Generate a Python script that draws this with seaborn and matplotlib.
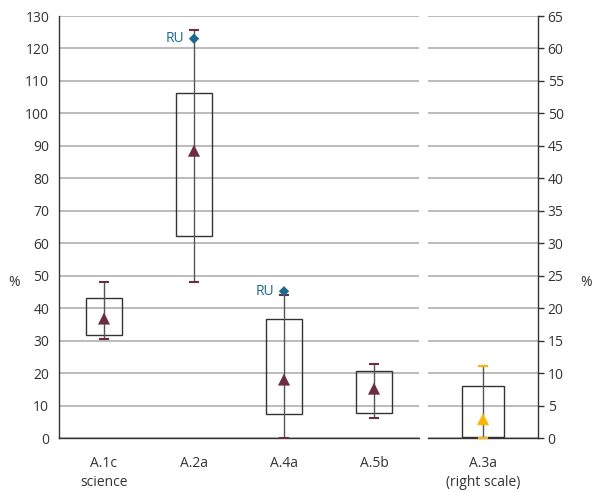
import matplotlib
matplotlib.use("Agg")
import matplotlib.pyplot as plt
import numpy as np
import pandas as pd
import seaborn as sns

# panel izquierdo (escala izquierda)
categorias = ["A.1c\nscience", "A.2a", "A.4a", "A.5b"]
caja_baja = [31.8, 62.3, 7.3, 7.7]
caja_alta = [43.0, 106.3, 36.7, 20.5]
bigote_bajo = [30.5, 48.0, 0.0, 6.2]
bigote_alto = [48.0, 125.8, 44.0, 22.9]
media = [36.8, 88.5, 18.0, 15.2]
ru_pos = [1, 2]
ru_valor = [123.0, 45.2]

# panel derecho (escala derecha)
categorias_der = ["A.3a\n(right scale)"]
caja_baja_der = [0.1]
caja_alta_der = [8.0]
bigote_bajo_der = [0.0]
bigote_alto_der = [11.1]
media_der = [2.9]

sns.set_style("white")
plt.rcParams['font.family'] = ['Open Sans', 'DejaVu Sans']
plt.rcParams['font.size'] = 10

GRIS_TXT = '#333333'
GRID = '#b0b0b0'
GRANATE = '#6e2c40'
NARANJA = '#ffb400'
AZUL = '#1b6b8f'
TAM = 10

fig = plt.figure(figsize=(5.96, 4.92), dpi=100)
ax1 = fig.add_axes([59/596, 54/492, 360/596, 422/492])
ax2 = fig.add_axes([428/596, 54/492, 110/596, 422/492])


def dibujar(ax, n, baja, alta, bajo, alto, med, color_cap, color_media):
    pos = np.arange(n)
    df = pd.DataFrame({"pos": pos, "media": med})
    baja = np.array(baja); alta = np.array(alta)
    ax.bar(pos, alta - baja, bottom=baja, width=0.39, facecolor='none',
           edgecolor='#333333', linewidth=1.0, zorder=3)
    ax.vlines(pos, bajo, alto, color='#555555', linewidth=1.0, zorder=3)
    ax.scatter(pos, bajo, marker='_', s=55, color=color_cap, linewidths=1.5, zorder=4)
    ax.scatter(pos, alto, marker='_', s=55, color=color_cap, linewidths=1.5, zorder=4)
    sns.scatterplot(data=df, x="pos", y="media", marker='^', color=color_media,
                    s=75, edgecolor='none', ax=ax, zorder=5)
    ax.set_xlim(-0.5, n - 0.5)
    ax.set_xlabel('')
    ax.set_ylabel('')
    ax.set_xticks(np.arange(n + 1) - 0.5)
    ax.set_xticklabels([])
    ax.tick_params(axis='x', which='major', direction='out', length=5, width=1, color='#333333')


dibujar(ax1, 4, caja_baja, caja_alta, bigote_bajo, bigote_alto, media, GRANATE, GRANATE)
dibujar(ax2, 1, caja_baja_der, caja_alta_der, bigote_bajo_der, bigote_alto_der, media_der, NARANJA, NARANJA)

# outliers RU
ru_df = pd.DataFrame({"pos": ru_pos, "valor": ru_valor})
sns.scatterplot(data=ru_df, x="pos", y="valor", marker='D', color=AZUL, s=28,
                edgecolor='none', ax=ax1, zorder=6)
for p, v in zip(ru_pos, ru_valor):
    ax1.annotate("RU", (p, v), xytext=(-7, 0), textcoords='offset points',
                 ha='right', va='center', color=AZUL, fontsize=TAM)
ax1.set_xlabel('')
ax1.set_ylabel('')

# ejes y
ax1.set_ylim(0, 130)
ax1.set_yticks(np.arange(0, 131, 10))
ax2.set_ylim(0, 65)
ax2.set_yticks(np.arange(0, 66, 5))
ax2.yaxis.tick_right()

for ax in (ax1, ax2):
    ax.yaxis.grid(True, color=GRID, linewidth=1.2, zorder=0)
    ax.set_axisbelow(True)
    ax.tick_params(axis='y', direction='out', length=4, width=1, color='#333333',
                   labelcolor=GRIS_TXT, labelsize=TAM, pad=3)
    for s in ax.spines.values():
        s.set_color('#333333')
        s.set_linewidth(1.0)

ax1.spines['top'].set_visible(False)
ax1.spines['right'].set_visible(False)
ax2.spines['top'].set_visible(False)
ax2.spines['left'].set_visible(False)

# etiquetas de categoria
ax1.set_xticks(np.arange(4), minor=True)
ax1.set_xticklabels(categorias, minor=True, linespacing=1.35)
ax2.set_xticks([0], minor=True)
ax2.set_xticklabels(categorias_der, minor=True, linespacing=1.35)
for ax in (ax1, ax2):
    ax.tick_params(axis='x', which='minor', length=0, pad=13, labelsize=TAM, labelcolor=GRIS_TXT)

fig.text(14/596, 1 - 283/492, '%', ha='center', va='center', fontsize=TAM, color=GRIS_TXT)
fig.text(586/596, 1 - 283/492, '%', ha='center', va='center', fontsize=TAM, color=GRIS_TXT)

fig.savefig('out.png', dpi=100)
